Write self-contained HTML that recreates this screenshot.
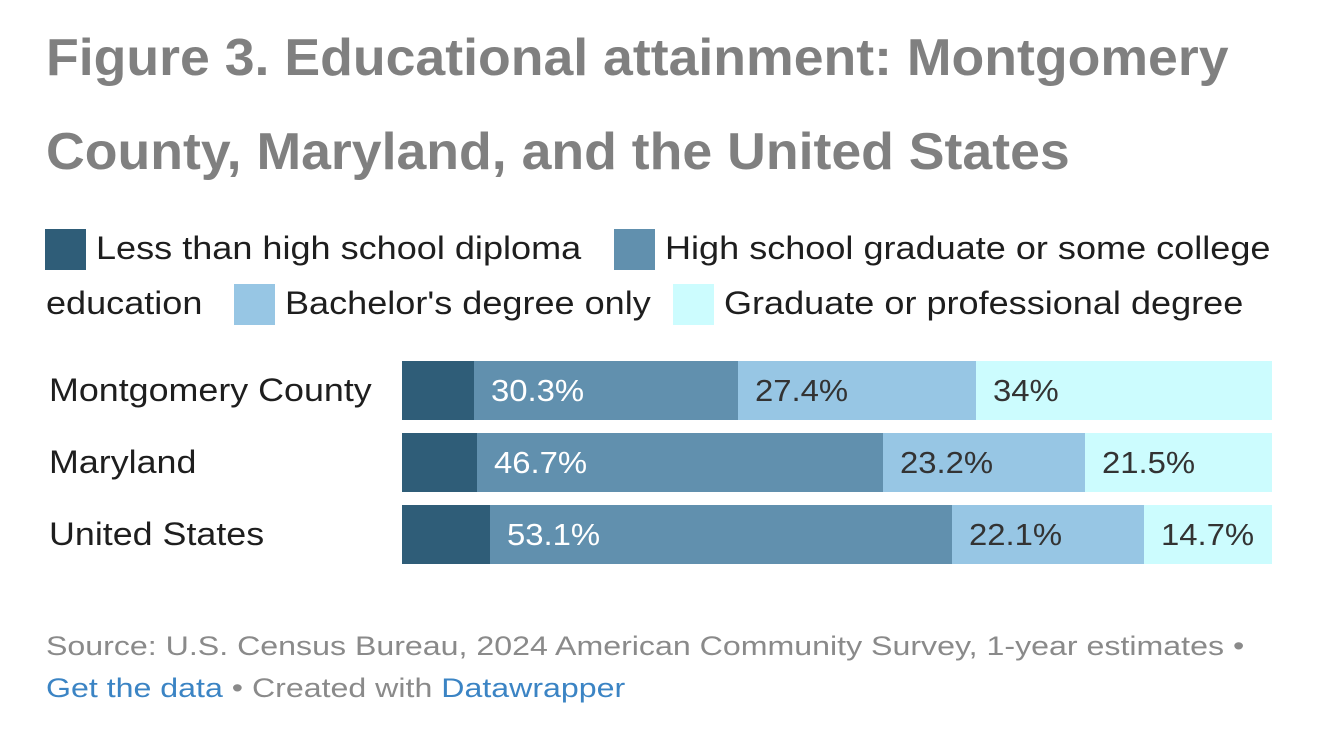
<!DOCTYPE html>
<html><head><meta charset="utf-8"><style>
body{margin:0;width:1320px;height:751px;background:#fff;position:relative;overflow:hidden;font-family:"Liberation Sans",sans-serif;}
.a{position:absolute;white-space:nowrap;transform-origin:0 0;}
.t{font-weight:bold;color:#808080;font-size:52px;left:46px;transform:scaleX(1.031)}
.lg{font-size:32px;color:#1e1e1e;transform:scaleX(1.127)}
.sw{position:absolute;width:41px;height:41px;}
.r{position:absolute;height:59px;}
.lab{font-size:32px;color:#1e1e1e;left:49px;transform:scaleX(1.12)}
.v{position:absolute;line-height:59px;}
.v span{display:inline-block;font-size:31px;transform:scaleX(1.06);transform-origin:0 0;padding-left:16px}
.f{font-size:27px;color:#8a8a8a;left:46px;transform:scaleX(1.19)}
.f a{color:#3b84c4;text-decoration:none}
</style></head><body>
<div class="a t" style="top:28px">Figure 3. Educational attainment: Montgomery</div>
<div class="a t" style="top:122px">County, Maryland, and the United States</div>

<div class="sw" style="left:45px;top:229px;background:#2f5d78"></div>
<div class="a lg" style="left:96px;top:230px">Less than high school diploma</div>
<div class="sw" style="left:614px;top:229px;background:#6190ae"></div>
<div class="a lg" style="left:665px;top:230px">High school graduate or some college</div>
<div class="a lg" style="left:46px;top:285px">education</div>
<div class="sw" style="left:234px;top:284px;background:#97c6e4"></div>
<div class="a lg" style="left:285px;top:285px">Bachelor's degree only</div>
<div class="sw" style="left:673px;top:284px;background:#ccfcfe"></div>
<div class="a lg" style="left:724px;top:285px">Graduate or professional degree</div>

<div class="a lab" style="top:372px">Montgomery County</div>
<div class="a lab" style="top:444px">Maryland</div>
<div class="a lab" style="top:516px">United States</div>

<div class="r" style="top:361px;left:402px;width:72px;background:#2f5d78"></div>
<div class="v" style="top:361px;left:474px;width:264px;height:59px;background:#6190ae;color:#fff"><span>30.3%</span></div>
<div class="v" style="top:361px;left:738px;width:238px;height:59px;background:#97c6e4;color:#333"><span>27.4%</span></div>
<div class="v" style="top:361px;left:976px;width:296px;height:59px;background:#ccfcfe;color:#333"><span>34%</span></div>

<div class="r" style="top:433px;left:402px;width:75px;background:#2f5d78"></div>
<div class="v" style="top:433px;left:477px;width:406px;height:59px;background:#6190ae;color:#fff"><span>46.7%</span></div>
<div class="v" style="top:433px;left:883px;width:202px;height:59px;background:#97c6e4;color:#333"><span>23.2%</span></div>
<div class="v" style="top:433px;left:1085px;width:187px;height:59px;background:#ccfcfe;color:#333"><span>21.5%</span></div>

<div class="r" style="top:505px;left:402px;width:88px;background:#2f5d78"></div>
<div class="v" style="top:505px;left:490px;width:462px;height:59px;background:#6190ae;color:#fff"><span>53.1%</span></div>
<div class="v" style="top:505px;left:952px;width:192px;height:59px;background:#97c6e4;color:#333"><span>22.1%</span></div>
<div class="v" style="top:505px;left:1144px;width:128px;height:59px;background:#ccfcfe;color:#333"><span>14.7%</span></div>

<div class="a f" style="top:631px">Source: U.S. Census Bureau, 2024 American Community Survey, 1-year estimates •</div>
<div class="a f" style="top:673px"><a>Get the data</a> • Created with <a>Datawrapper</a></div>
</body></html>
